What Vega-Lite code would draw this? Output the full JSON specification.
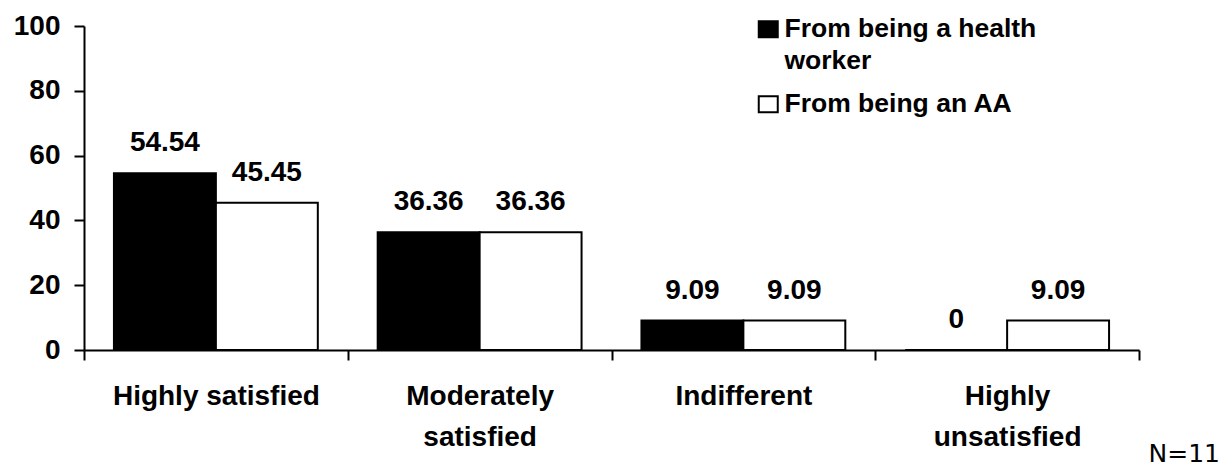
{
  "$schema": "https://vega.github.io/schema/vega-lite/v6.json",
  "width": 1055,
  "height": 324,
  "autosize": {"type": "none"},
  "padding": {"left": 84, "top": 26, "right": 90, "bottom": 120},
  "background": "white",
  "config": {
    "view": {"stroke": null},
    "font": "Liberation Sans"
  },
  "title": {
    "text": "N=11",
    "orient": "bottom",
    "anchor": "end",
    "font": "DejaVu Sans",
    "fontSize": 25,
    "fontWeight": "normal",
    "color": "black",
    "dx": 80,
    "offset": -9
  },
  "data": {
    "values": [
      {"response": "Highly satisfied", "source": "From being a health worker", "percent": 54.54},
      {"response": "Highly satisfied", "source": "From being an AA", "percent": 45.45},
      {"response": "Moderately satisfied", "source": "From being a health worker", "percent": 36.36},
      {"response": "Moderately satisfied", "source": "From being an AA", "percent": 36.36},
      {"response": "Indifferent", "source": "From being a health worker", "percent": 9.09},
      {"response": "Indifferent", "source": "From being an AA", "percent": 9.09},
      {"response": "Highly unsatisfied", "source": "From being a health worker", "percent": 0},
      {"response": "Highly unsatisfied", "source": "From being an AA", "percent": 9.09}
    ]
  },
  "encoding": {
    "x": {
      "field": "response",
      "type": "nominal",
      "sort": ["Highly satisfied", "Moderately satisfied", "Indifferent", "Highly unsatisfied"],
      "scale": {"paddingInner": 0, "paddingOuter": 0},
      "axis": {
        "title": null,
        "tickBand": "extent",
        "labelAngle": 0,
        "labelFontSize": 28,
        "labelFontWeight": "bold",
        "labelColor": "black",
        "labelPadding": 22,
        "labelBaseline": "top",
        "labelLineHeight": 41,
        "labelLimit": 400,
        "labelExpr": "datum.value == 'Moderately satisfied' ? ['Moderately', 'satisfied'] : datum.value == 'Highly unsatisfied' ? ['Highly', 'unsatisfied'] : datum.label",
        "tickSize": 10,
        "tickWidth": 2,
        "tickColor": "black",
        "domainWidth": 2,
        "domainColor": "black"
      }
    },
    "xOffset": {
      "field": "source",
      "type": "nominal",
      "sort": ["From being a health worker", "From being an AA"],
      "scale": {"paddingInner": 0, "paddingOuter": 0.2937}
    },
    "y": {
      "field": "percent",
      "type": "quantitative",
      "scale": {"domain": [0, 100], "nice": false},
      "axis": {
        "title": null,
        "grid": false,
        "values": [0, 20, 40, 60, 80, 100],
        "labelFontSize": 28,
        "labelFontWeight": "bold",
        "labelColor": "black",
        "labelPadding": 14,
        "tickSize": 10,
        "tickWidth": 2,
        "tickColor": "black",
        "domainWidth": 2,
        "domainColor": "black"
      }
    }
  },
  "layer": [
    {
      "mark": {"type": "bar", "stroke": "black", "strokeWidth": 2},
      "encoding": {
        "fill": {
          "field": "source",
          "type": "nominal",
          "sort": ["From being a health worker", "From being an AA"],
          "scale": {"domain": ["From being a health worker", "From being an AA"], "range": ["black", "white"]},
          "legend": {
            "title": null,
            "orient": "none",
            "legendX": 671,
            "legendY": -10,
            "symbolType": "M-1,-0.84H1V0.84H-1Z",
            "symbolSize": 361,
            "symbolStrokeColor": "black",
            "symbolStrokeWidth": 2,
            "labelFont": "Liberation Sans",
            "labelFontSize": 26.5,
            "labelFontWeight": "bold",
            "labelColor": "black",
            "labelOffset": 3,
            "labelLimit": 400,
            "labelBaseline": "alphabetic",
            "rowPadding": 16,
            "labelExpr": "datum.value == 'From being a health worker' ? ['From being a health', 'worker'] : datum.label",
            "encode": {
              "labels": {"update": {"dy": {"value": 8}, "lineHeight": {"value": 32}}}
            }
          }
        }
      }
    },
    {
      "mark": {
        "type": "text",
        "baseline": "alphabetic",
        "dy": -22,
        "fontSize": 28,
        "fontWeight": "bold",
        "color": "black"
      },
      "encoding": {
        "text": {"field": "percent", "type": "quantitative", "format": ""}
      }
    }
  ]
}
